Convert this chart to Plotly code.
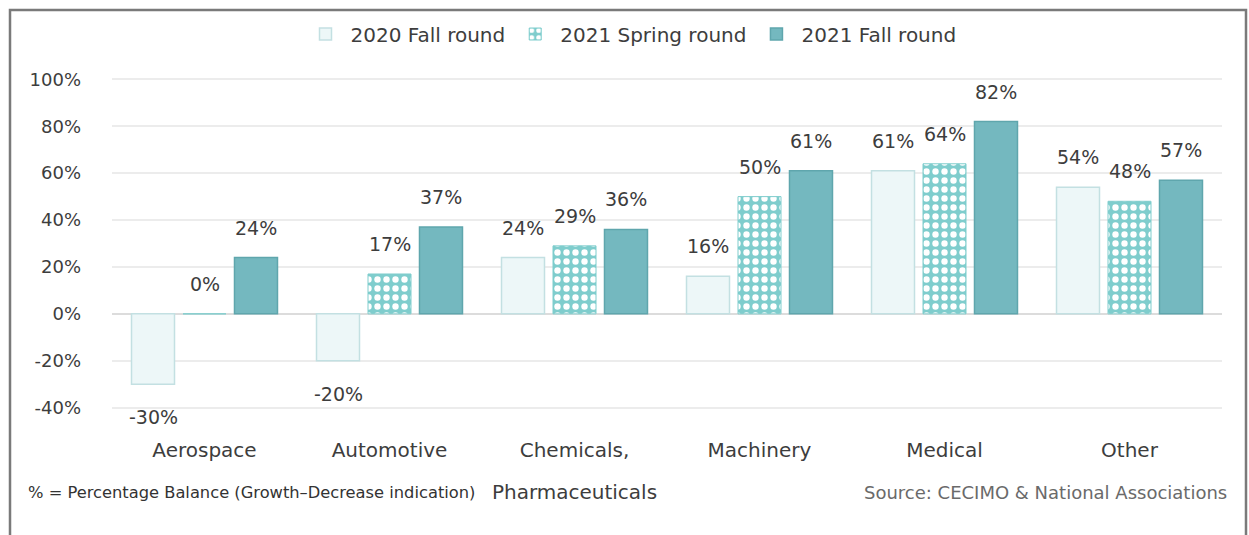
import plotly.graph_objects as go

categories = ["Aerospace", "Automotive", "Chemicals, Pharmaceuticals", "Machinery", "Medical", "Other"]
tick_line1 = ["Aerospace", "Automotive", "Chemicals,", "Machinery", "Medical", "Other"]
tick_line2 = ["", "", "Pharmaceuticals", "", "", ""]
series_names = ["2020 Fall round", "2021 Spring round", "2021 Fall round"]
fall_2020 = [-30, -20, 24, 16, 61, 54]
spring_2021 = [0, 17, 29, 50, 64, 48]
fall_2021 = [24, 37, 36, 61, 82, 57]
y_ticks = [-40, -20, 0, 20, 40, 60, 80, 100]
y_tick_labels = [f"{v}%" for v in y_ticks]

FONT = "DejaVu Sans, sans-serif"
TXT = "#3d3d3d"

W, H = 1249, 535
ML, MR, MT, MB = 112, 27, 77, 125
PW, PH = W - ML - MR, H - MT - MB
BARGAP, GROUPGAP = 0.165, 0.165


def px_x(p):
    return (p - ML) / PW


def px_y(p):
    return (H - MB - p) / PH


series = [fall_2020, spring_2021, fall_2021]

fig = go.Figure()
fig.add_trace(go.Bar(
    name=series_names[0], x=categories, y=fall_2020,
    marker=dict(color="#edf7f8", line=dict(color="#c3e0e2", width=1.5)),
))
fig.add_trace(go.Bar(
    name=series_names[1], x=categories, y=spring_2021,
    marker=dict(color="#7fcdcd", line=dict(color="#7fcdcd", width=1),
                pattern=dict(shape=".", fgcolor="#ffffff", bgcolor="#7fcdcd",
                             size=9, solidity=0.4, fillmode="replace")),
))
fig.add_trace(go.Bar(
    name=series_names[2], x=categories, y=fall_2021,
    marker=dict(color="#74b8bf", line=dict(color="#5fa6ad", width=1.5)),
))
# carrier for the second line of the category labels (no visible marks)
fig.add_trace(go.Scatter(x=categories, y=[None] * len(categories), xaxis="x2",
                         mode="markers", showlegend=False, hoverinfo="skip"))

# value labels placed at each bar's value (offset per group like plotly's grouping)
step = (1 - BARGAP) / 3
annotations = []
for i, vals in enumerate(series):
    for j, v in enumerate(vals):
        annotations.append(dict(
            x=j + (i - 1) * step, y=v, xref="x", yref="y", text=f"{v}%",
            showarrow=False, yanchor="middle", yshift=30 if v >= 0 else -33,
            font=dict(family=FONT, size=19, color=TXT)))

annotations += [
    dict(text="% = Percentage Balance (Growth–Decrease indication)", xref="paper", yref="paper",
         x=px_x(26), y=px_y(492), xanchor="left", yanchor="middle", showarrow=False,
         font=dict(family=FONT, size=16.3, color="#333333")),
    dict(text="Source: CECIMO &amp; National Associations", xref="paper", yref="paper",
         x=px_x(1229), y=px_y(492), xanchor="right", yanchor="middle", showarrow=False,
         font=dict(family=FONT, size=18, color="#6a6a6a")),
]

fig.update_layout(
    width=W, height=H,
    margin=dict(l=ML, r=MR, t=MT, b=MB),
    paper_bgcolor="white", plot_bgcolor="white",
    barmode="group", bargap=BARGAP, bargroupgap=GROUPGAP,
    font=dict(family=FONT, color=TXT),
    showlegend=True,
    legend=dict(orientation="h", x=px_x(631), xanchor="center", y=px_y(34), yanchor="middle",
                font=dict(family=FONT, size=20, color=TXT), itemwidth=40,
                traceorder="normal"),
    xaxis=dict(type="category", categoryorder="array", categoryarray=categories,
               tickvals=categories, ticktext=tick_line1,
               showgrid=False, showline=False, zeroline=False, ticks="",
               tickfont=dict(family=FONT, size=20, color=TXT), ticklabelstandoff=26),
    xaxis2=dict(type="category", categoryorder="array", categoryarray=categories,
                overlaying="x", anchor="y", side="bottom", range=[-0.5, len(categories) - 0.5],
                tickvals=categories, ticktext=tick_line2,
                showgrid=False, showline=False, zeroline=False, ticks="",
                tickfont=dict(family=FONT, size=20, color=TXT), ticklabelstandoff=68),
    yaxis=dict(range=[-41, 101], tickvals=y_ticks, ticktext=y_tick_labels,
               showgrid=True, gridcolor="#ececec", gridwidth=1.5,
               zeroline=True, zerolinecolor="#dcdcdc", zerolinewidth=2,
               showline=False, ticks="", ticklabelstandoff=30,
               tickfont=dict(family=FONT, size=18, color=TXT)),
    shapes=[dict(type="rect", xref="paper", yref="paper",
                 x0=px_x(10), x1=px_x(1246), y0=px_y(545), y1=px_y(10),
                 line=dict(color="#7a7a7a", width=2.5), fillcolor="rgba(0,0,0,0)", layer="below")],
    annotations=annotations,
)

fig.write_html("out.html", config={"displayModeBar": False},
               post_script="document.body.style.margin='0';document.body.style.overflow='hidden';")
